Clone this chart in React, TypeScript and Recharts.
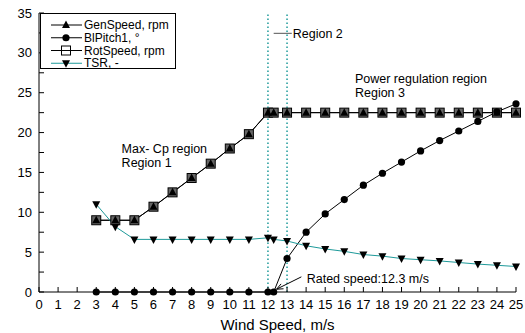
import {
  LineChart,
  Line,
  XAxis,
  YAxis,
  ReferenceLine,
  ReferenceDot,
  Label,
} from "recharts";

const FONT = '"Liberation Sans", Arial, sans-serif';
const TEAL = "#1e9a9a";

// wind speed, m/s
const windSpeed = [3, 4, 5, 6, 7, 8, 9, 10, 11, 12, 12.3, 13, 14, 15, 16, 17, 18, 19, 20, 21, 22, 23, 24, 25];
const genSpeed = [9, 9, 9, 10.7, 12.5, 14.3, 16.1, 18.0, 19.8, 22.5, 22.5, 22.5, 22.5, 22.5, 22.5, 22.5, 22.5, 22.5, 22.5, 22.5, 22.5, 22.5, 22.5, 22.5];
const blPitch = [0, 0, 0, 0, 0, 0, 0, 0, 0, 0, 0, 4.2, 7.5, 9.8, 11.6, 13.4, 14.9, 16.3, 17.7, 19.0, 20.2, 21.4, 22.6, 23.6];
const rotSpeed = [9, 9, 9, 10.7, 12.5, 14.3, 16.1, 18.0, 19.8, 22.5, 22.5, 22.5, 22.5, 22.5, 22.5, 22.5, 22.5, 22.5, 22.5, 22.5, 22.5, 22.5, 22.5, 22.5];
const tsr = [11.0, 8.2, 6.6, 6.6, 6.6, 6.6, 6.6, 6.6, 6.6, 6.8, 6.6, 6.4, 5.8, 5.4, 5.1, 4.7, 4.5, 4.2, 4.05, 3.9, 3.7, 3.5, 3.35, 3.2];

const xTicks = Array.from({ length: 26 }, (_, i) => i);
const yTicks = [0, 2.5, 5, 7.5, 10, 12.5, 15, 17.5, 20, 22.5, 25, 27.5, 30, 32.5, 35];

const data = windSpeed.map((x, i) => ({
  x,
  gen: genSpeed[i],
  pitch: blPitch[i],
  rot: rotSpeed[i],
  tsr: tsr[i],
}));

const TriUp = ({ cx, cy }: any) =>
  cx == null ? null : (
    <path d={`M${cx},${cy - 4.5} L${cx + 4},${cy + 3} L${cx - 4},${cy + 3} Z`} fill="#000" />
  );
const TriDown = ({ cx, cy }: any) =>
  cx == null ? null : (
    <path d={`M${cx},${cy + 4.5} L${cx + 4},${cy - 3} L${cx - 4},${cy - 3} Z`} fill="#000" />
  );
const Circ = ({ cx, cy }: any) =>
  cx == null ? null : <circle cx={cx} cy={cy} r={3.6} fill="#000" />;
const Sq = ({ cx, cy, fill = "#666" }: any) =>
  cx == null ? null : (
    <rect x={cx - 4.5} y={cy - 4.5} width={9} height={9} fill={fill} stroke="#000" strokeWidth={1} />
  );

const series = [
  { key: "gen", name: "GenSpeed, rpm", color: "#000", Marker: TriUp },
  { key: "pitch", name: "BlPitch1, \u00b0", color: "#000", Marker: Circ },
  { key: "rot", name: "RotSpeed, rpm", color: "#000", Marker: Sq },
  { key: "tsr", name: "TSR, -", color: TEAL, Marker: TriDown },
];

const notes = [
  { x: 4.33, y: 18.0, lines: ["Max- Cp region", "Region 1"] },
  { x: 16.56, y: 26.8, lines: ["Power regulation region", "Region 3"] },
  { x: 13.3, y: 32.45, lines: ["Region 2"] },
  { x: 14.03, y: 1.67, lines: ["Rated speed:12.3 m/s"] },
];

const noteLabel = (lines: string[]) => (props: any) => {
  const { viewBox } = props;
  return (
    <text x={viewBox.x} y={viewBox.y} fontFamily={FONT} fontSize={12.5} fill="#000">
      {lines.map((l, i) => (
        <tspan key={i} x={viewBox.x} dy={i === 0 ? "0.35em" : 14.5}>
          {l}
        </tspan>
      ))}
    </text>
  );
};

const Arrow = (props: any) => {
  const { x1, y1, x2, y2 } = props;
  const a = Math.atan2(y2 - y1, x2 - x1);
  const h = 7;
  const p1 = [x2 - h * Math.cos(a - 0.4), y2 - h * Math.sin(a - 0.4)];
  const p2 = [x2 - h * Math.cos(a + 0.4), y2 - h * Math.sin(a + 0.4)];
  return (
    <g stroke="#000" strokeWidth={1} fill="none">
      <line x1={x1} y1={y1} x2={x2} y2={y2} />
      <polyline points={`${p1[0]},${p1[1]} ${x2},${y2} ${p2[0]},${p2[1]}`} />
    </g>
  );
};

const tickStyle = { fontFamily: FONT, fontSize: 13, fill: "#000" };

export default function App() {
  return (
    <div style={{ position: "absolute", left: 0, top: 0, width: 525, height: 333, background: "#fff" }}>
      <LineChart width={525} height={333} data={data} margin={{ top: 13, right: 9, bottom: 6, left: 9 }}>
        <XAxis
          dataKey="x"
          type="number"
          domain={[0, 25]}
          ticks={xTicks}
          interval={0}
          tickSize={-5}
          tickMargin={13}
          height={35}
          stroke="#000"
          tick={tickStyle}
        >
          <Label
            value="Wind Speed, m/s"
            position="insideBottom"
            offset={-3}
            style={{ fontFamily: FONT, fontSize: 15, fill: "#000" }}
          />
        </XAxis>
        <XAxis
          xAxisId="top"
          orientation="top"
          type="number"
          domain={[0, 25]}
          ticks={xTicks}
          interval={0}
          tickSize={-5}
          height={0}
          stroke="#000"
          tickFormatter={() => ""}
        />
        <YAxis
          type="number"
          domain={[0, 35]}
          ticks={yTicks}
          interval={0}
          width={30}
          tickSize={-5}
          tickMargin={12}
          stroke="#000"
          tick={tickStyle}
          tickFormatter={(v: number) => (v % 5 === 0 ? String(v) : "")}
        />
        <YAxis
          yAxisId="right"
          orientation="right"
          type="number"
          domain={[0, 35]}
          ticks={yTicks}
          interval={0}
          width={0}
          tickSize={-5}
          stroke="#000"
          tickFormatter={() => ""}
        />
        <ReferenceLine x={12} stroke={TEAL} strokeDasharray="1.5 2.5" strokeWidth={1.5} />
        <ReferenceLine x={13} stroke={TEAL} strokeDasharray="1.5 2.5" strokeWidth={1.5} />
        <ReferenceLine
          segment={[
            { x: 12.3, y: 32.45 },
            { x: 13.25, y: 32.45 },
          ]}
          stroke="#555"
          strokeWidth={1}
        />
        <ReferenceLine
          segment={[
            { x: 13.75, y: 1.9 },
            { x: 12.45, y: 0.35 },
          ]}
          shape={Arrow}
        />
        {series
          .slice()
          .sort((a, b) => (a.key === "rot" ? -1 : b.key === "rot" ? 1 : 0))
          .map((s) => (
            <Line
              key={s.key}
              dataKey={s.key}
              name={s.name}
              stroke={s.color}
              strokeWidth={1}
              isAnimationActive={false}
              dot={(p: any) => <s.Marker key={`${s.key}-${p.index}`} cx={p.cx} cy={p.cy} />}
              activeDot={false}
            />
          ))}
        {notes.map((n, i) => (
          <ReferenceDot key={i} x={n.x} y={n.y} r={0} stroke="none" fill="none" label={noteLabel(n.lines)} />
        ))}
      </LineChart>
      <svg width={136} height={56} style={{ position: "absolute", left: 40, top: 13 }}>
        <rect x={0.5} y={0.5} width={135} height={55} fill="#fff" stroke="#000" strokeWidth={1} />
        {series.map((s, i) => {
          const cy = 12 + i * 12.75;
          return (
            <g key={s.key}>
              <line x1={11} x2={42} y1={cy} y2={cy} stroke={s.color} strokeWidth={1} />
              {s.key === "rot" ? <Sq cx={26} cy={cy} fill="none" /> : <s.Marker cx={26} cy={cy} />}
              <text x={44} y={cy} dy="0.35em" fontFamily={FONT} fontSize={12} fill="#000">
                {s.name}
              </text>
            </g>
          );
        })}
      </svg>
    </div>
  );
}
